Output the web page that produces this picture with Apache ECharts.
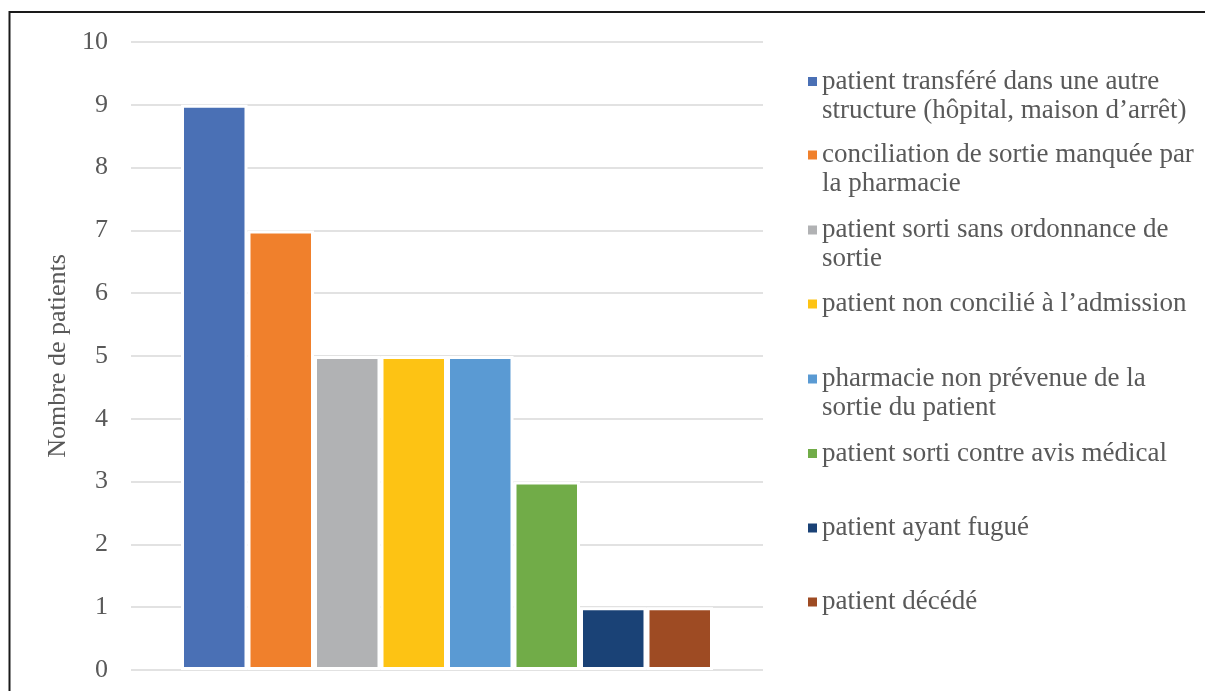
<!DOCTYPE html>
<html>
<head>
<meta charset="utf-8">
<script src="https://cdn.jsdelivr.net/npm/echarts@6/dist/echarts.min.js"></script>
<style>
html,body{margin:0;padding:0;background:#fff;}
#chart{width:1205px;height:691px;}
</style>
</head>
<body>
<div id="chart"></div>
<script>
const categories = [''];
const seriesNames = [
  "patient transféré dans une autre structure (hôpital, maison d’arrêt)",
  "conciliation de sortie manquée par la pharmacie",
  "patient sorti sans ordonnance de sortie",
  "patient non concilié à l’admission",
  "pharmacie non prévenue de la sortie du patient",
  "patient sorti contre avis médical",
  "patient ayant fugué",
  "patient décédé"
];
const legendLines = [
  ["patient transféré dans une autre", "structure (hôpital, maison d’arrêt)"],
  ["conciliation de sortie manquée par", "la pharmacie"],
  ["patient sorti sans ordonnance de", "sortie"],
  ["patient non concilié à l’admission"],
  ["pharmacie non prévenue de la", "sortie du patient"],
  ["patient sorti contre avis médical"],
  ["patient ayant fugué"],
  ["patient décédé"]
];
const seriesValues = [9, 7, 5, 5, 5, 3, 1, 1];
const colors = ['#4A70B5', '#F0802C', '#B1B2B4', '#FDC314', '#5A9AD3', '#71AC48', '#1A4276', '#9E4B23'];
const yTicks = [0, 1, 2, 3, 4, 5, 6, 7, 8, 9, 10];
const yAxisName = 'Nombre de patients';

const FONT = "'Liberation Serif', 'Times New Roman', serif";
const TXT = '#595959';
const legendCenters = [81.5, 155, 230, 304, 379, 453.5, 528, 602];
const LH = 29;

const chart = echarts.init(document.getElementById('chart'));

const legends = seriesNames.map((name, i) => {
  const lines = legendLines[i];
  const n = lines.length;
  // for two-line entries, prepend a blank line so the icon aligns with the first line
  const textLines = n > 1 ? [' '].concat(lines) : lines;
  const h = textLines.length * LH;
  return {
    show: true,
    data: [name],
    orient: 'vertical',
    left: 808,
    top: legendCenters[i] - h / 2,
    padding: 0,
    itemWidth: 9,
    itemHeight: 9,
    icon: 'rect',
    selectedMode: false,
    itemStyle: { borderWidth: 0 },
    formatter: () => textLines.join('\n'),
    textStyle: {
      fontFamily: FONT,
      fontSize: 27,
      color: TXT,
      lineHeight: LH
    }
  };
});

const option = {
  backgroundColor: '#fff',
  animation: false,
  color: colors,
  graphic: [{
    type: 'rect',
    shape: { x: 9.5, y: 12, width: 1400, height: 1000 },
    style: { fill: 'none', stroke: '#1a1a1a', lineWidth: 2 },
    silent: true,
    z: 100
  }],
  grid: { left: 131, right: 442, top: 42, bottom: 21 },
  legend: legends,
  xAxis: {
    type: 'category',
    data: categories,
    axisLine: { show: false },
    axisTick: { show: false },
    axisLabel: { show: false }
  },
  yAxis: {
    type: 'value',
    min: yTicks[0],
    max: yTicks[yTicks.length - 1],
    interval: 1,
    name: yAxisName,
    nameLocation: 'middle',
    nameGap: 58,
    nameTextStyle: { fontFamily: FONT, fontSize: 26, color: TXT },
    axisLine: { show: false },
    axisTick: { show: false },
    axisLabel: { fontFamily: FONT, fontSize: 26, color: TXT, margin: 23 },
    splitLine: { lineStyle: { color: '#d9d9d9', width: 1.5 } }
  },
  series: seriesNames.map((name, i) => ({
    type: 'bar',
    name: name,
    data: [seriesValues[i]],
    barWidth: 66.5,
    barGap: '0%',
    itemStyle: { color: colors[i], borderColor: '#ffffff', borderWidth: 3 }
  }))
};
chart.setOption(option);
</script>
</body>
</html>
